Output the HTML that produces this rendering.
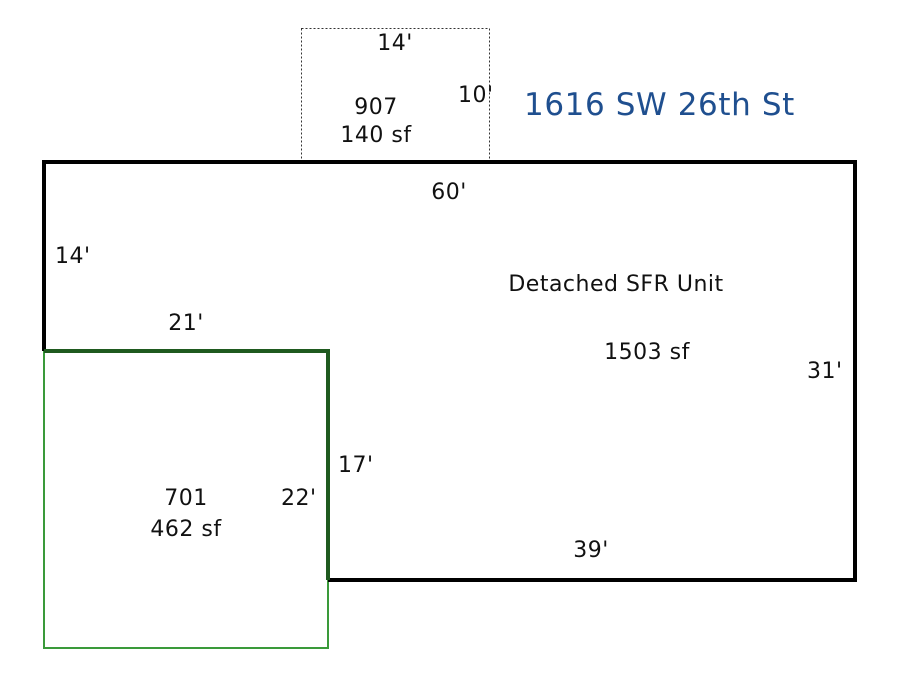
<!DOCTYPE html>
<html><head><style>
body{margin:0;background:#fff}
svg text{font-family:"DejaVu Sans","Liberation Sans",sans-serif;font-size:22px;fill:#111;letter-spacing:0.5px}
</style></head><body>
<svg width="900" height="675" xmlns="http://www.w3.org/2000/svg">
<rect x="301.5" y="28.5" width="188" height="133" fill="none" stroke="#333" stroke-width="1" stroke-dasharray="2,2"/>
<rect x="44" y="351" width="284" height="297" fill="none" stroke="#3a9a3a" stroke-width="2"/>
<polyline points="44,351 44,162 855,162 855,580 328,580" fill="none" stroke="#000" stroke-width="4"/>
<polyline points="44,351 328,351 328,580" fill="none" stroke="#1f5a1f" stroke-width="4"/>
<text x="395" y="50" text-anchor="middle">14'</text>
<text x="458" y="102">10'</text>
<text x="376" y="114" text-anchor="middle">907</text>
<text x="376" y="142" text-anchor="middle">140 sf</text>
<text x="524" y="115" style="font-size:31px;fill:#1f4f8f;letter-spacing:0.6px">1616 SW 26th St</text>
<text x="449" y="199" text-anchor="middle">60'</text>
<text x="55" y="263">14'</text>
<text x="616" y="291" text-anchor="middle">Detached SFR Unit</text>
<text x="186" y="330" text-anchor="middle">21'</text>
<text x="647" y="359" text-anchor="middle">1503 sf</text>
<text x="807" y="378">31'</text>
<text x="338" y="472">17'</text>
<text x="186" y="505" text-anchor="middle">701</text>
<text x="186" y="536" text-anchor="middle">462 sf</text>
<text x="281" y="505">22'</text>
<text x="591" y="557" text-anchor="middle">39'</text>
</svg>
</body></html>
